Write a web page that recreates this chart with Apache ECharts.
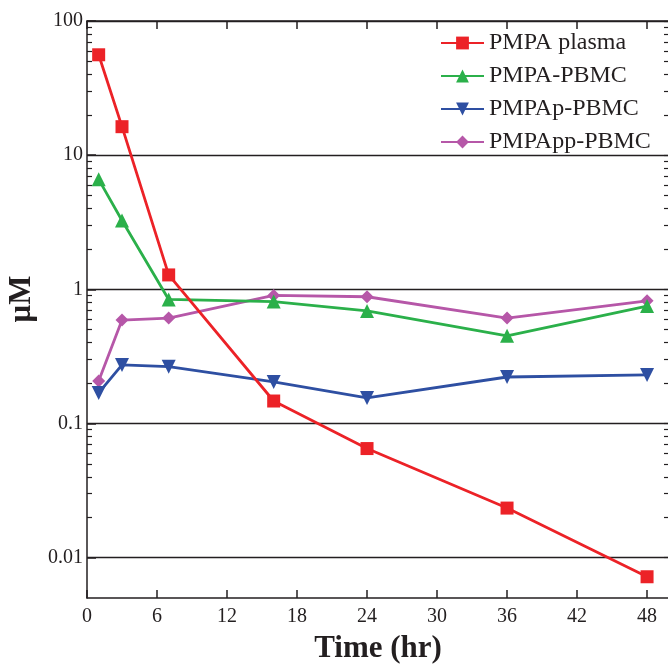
<!DOCTYPE html>
<html><head><meta charset="utf-8">
<script src="https://cdn.jsdelivr.net/npm/echarts@6/dist/echarts.min.js"></script>
<style>html,body{margin:0;padding:0;background:#fff}#c{width:668px;height:666px}</style>
</head><body><div id="c"></div>
<script>
const times = [1, 3, 7, 16, 24, 36, 48];
const pmpaPlasma = [56, 16.3, 1.28, 0.147, 0.065, 0.0234, 0.0072];
const pmpaPBMC = [6.6, 3.26, 0.84, 0.81, 0.69, 0.45, 0.75];
const pmpapPBMC = [0.169, 0.273, 0.265, 0.204, 0.155, 0.222, 0.23];
const pmpappPBMC = [0.207, 0.59, 0.61, 0.9, 0.88, 0.61, 0.82];
const seriesNames = ['PMPA plasma', 'PMPA-PBMC', 'PMPAp-PBMC', 'PMPApp-PBMC'];
const xTicks = [0, 6, 12, 18, 24, 30, 36, 42, 48];
const yMajor = [0.01, 0.1, 1, 10, 100];

const yMinor = [];
[0.01, 0.1, 1, 10].forEach(d => { for (let k = 2; k <= 9; k++) yMinor.push(parseFloat((k * d).toPrecision(2))); });

const FONT = 'Liberation Serif';
const INK = '#231f20';
const colors = ['#ec2227', '#2bb04a', '#2e4fa2', '#b657a8'];
const symbols = ['rect', 'triangle', 'triangle', 'diamond'];
const symbolSizes = [13, 14, 14, 13];

function fmt(v) { return v >= 1 ? String(Math.round(v)) : String(parseFloat(Number(v).toPrecision(1))); }
const pair = arr => times.map((t, i) => [t, arr[i]]);
const datasets = [pmpaPlasma, pmpaPBMC, pmpapPBMC, pmpappPBMC];

const X_MAX = 49.88;
const yBase = { type: 'log', logBase: 10, min: 0.005, max: 100 };
const chart = echarts.init(document.getElementById('c'));
chart.setOption({
  animation: false,
  grid: { left: 87, top: 21, width: 582, height: 577, containLabel: false, outerBoundsMode: 'none' },
  legend: {
    orient: 'vertical', left: 440, top: 31, padding: 0,
    itemWidth: 43, itemHeight: 16, itemGap: 9,
    textStyle: { fontFamily: FONT, fontSize: 24, lineHeight: 24, color: INK },
    data: seriesNames
  },
  xAxis: [
    { type: 'value', min: 0, max: X_MAX, interval: 6, position: 'bottom',
      name: 'Time (hr)', nameLocation: 'middle', nameGap: 35,
      nameTextStyle: { fontFamily: FONT, fontSize: 31, fontWeight: 'bold', color: INK },
      axisLine: { lineStyle: { color: INK, width: 1.5 } },
      axisTick: { inside: true, length: 8, lineStyle: { color: INK, width: 1.5 }, customValues: xTicks },
      axisLabel: { fontFamily: FONT, fontSize: 20, color: INK, margin: 9, customValues: xTicks },
      splitLine: { show: false } },
    { type: 'value', min: 0, max: X_MAX, interval: 6, position: 'top',
      axisLine: { lineStyle: { color: INK, width: 1.5 } },
      axisTick: { inside: true, length: 8, lineStyle: { color: INK, width: 1.5 }, customValues: xTicks },
      axisLabel: { show: false }, splitLine: { show: false } }
  ],
  yAxis: [
    Object.assign({}, yBase, { position: 'left',
      name: 'μM', nameLocation: 'middle', nameGap: 39,
      nameTextStyle: { fontFamily: FONT, fontSize: 31, fontWeight: 'bold', color: INK, padding: [0, 0, 0, 21] },
      axisLine: { lineStyle: { color: INK, width: 1.5 } },
      axisTick: { inside: true, length: 9, lineStyle: { color: INK, width: 1.5 }, customValues: yMajor },
      axisLabel: { fontFamily: FONT, fontSize: 20, color: INK, margin: 4, customValues: yMajor, formatter: fmt },
      splitLine: { show: true, lineStyle: { color: INK, width: 1.3 } } }),
    Object.assign({}, yBase, { position: 'left',
      axisLine: { show: false },
      axisTick: { inside: true, length: 5, lineStyle: { color: INK, width: 1.2 }, customValues: yMinor },
      axisLabel: { show: false }, splitLine: { show: false } }),
    Object.assign({}, yBase, { position: 'right',
      axisLine: { lineStyle: { color: INK, width: 1.5 } },
      axisTick: { inside: true, length: 5, lineStyle: { color: INK, width: 1.2 }, customValues: yMinor.concat(yMajor) },
      axisLabel: { show: false }, splitLine: { show: false } })
  ],
  series: datasets.map((arr, i) => ({
    name: seriesNames[i], type: 'line', data: pair(arr), xAxisIndex: 0, yAxisIndex: 0,
    symbol: symbols[i], symbolRotate: i === 2 ? 180 : 0,
    symbolSize: symbolSizes[i],
    lineStyle: { color: colors[i], width: 2.8 },
    itemStyle: { color: colors[i] },
    z: 10 - i
  }))
});
</script></body></html>
